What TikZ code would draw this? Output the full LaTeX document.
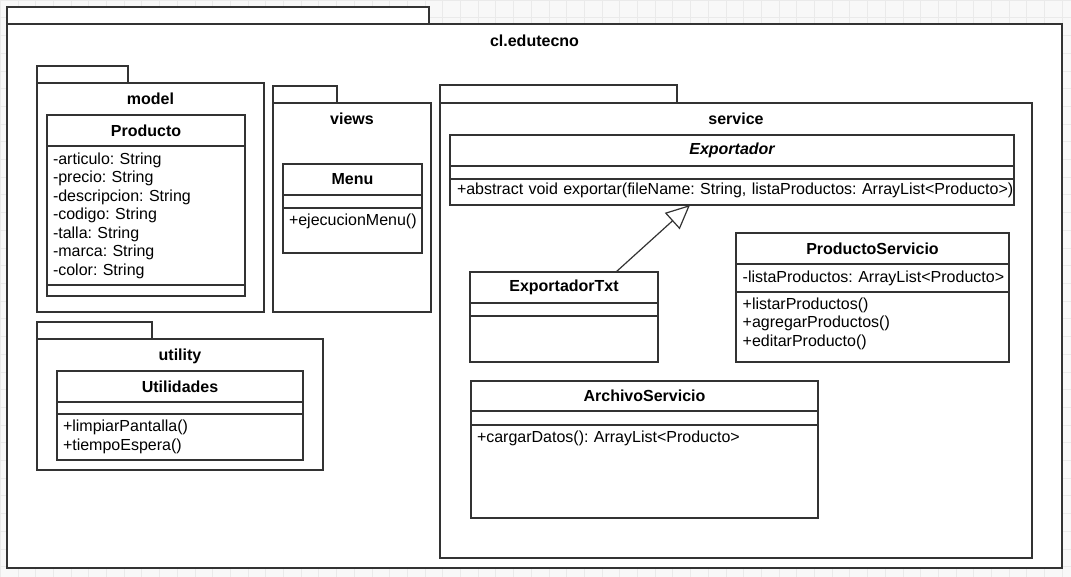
\documentclass[tikz,border=0pt]{standalone}
\usepackage{fontspec}
\setmainfont{Liberation Sans}
\usetikzlibrary{positioning,arrows.meta}

\definecolor{umlline}{HTML}{333333}
\definecolor{pagebg}{HTML}{F8F8F8}
\definecolor{gridcol}{HTML}{EAEAEA}
\newcommand{\umlfont}{\fontsize{16}{18.5}\selectfont\frenchspacing}

\tikzset{
  pkg/.style={draw=umlline, line width=1.2pt, fill=white, inner sep=0pt, outer sep=0pt, anchor=north west},
  pkgtab/.style={draw=umlline, line width=1.2pt, fill=white, inner sep=0pt, outer sep=0pt, anchor=south west},
  pkgname/.style={font=\umlfont\bfseries, inner sep=0pt},
  classhead/.style={draw=umlline, line width=1.2pt, fill=white, font=\umlfont\bfseries, inner sep=0pt, outer sep=0pt, minimum width=#1, minimum height=31pt, anchor=north west},
  classpart/.style={draw=umlline, line width=1.2pt, fill=white, font=\umlfont, inner xsep=6pt, inner ysep=0pt, outer sep=0pt, text width=#1, align=left},
  extends/.style={draw=umlline, line width=1.2pt, -{Triangle[open, length=24pt, width=22pt, fill=white]}},
}

\begin{document}
\begin{tikzpicture}[x=1pt, y=-1pt]

      \useasboundingbox (0,0) rectangle (1071,577);
      \fill[pagebg] (0,0) rectangle (1071,577);
      \draw[gridcol, step=17.7pt] (0,0) grid (1071,577);

      % Packages
      \node[pkg, minimum width=1055pt, minimum height=544pt]  (edutecno) at (7,24) {};
      \node[pkgtab, minimum width=422pt, minimum height=17pt] (edutecno-tab) at (edutecno.north west) {};
      \node[pkgname, below=11pt of edutecno.north]           (edutecno-name) {cl.edutecno};

      \node[pkg, minimum width=227pt, minimum height=229pt]   (model) at (37,83) {};
      \node[pkgtab, minimum width=91pt, minimum height=17pt]  (model-tab) at (model.north west) {};
      \node[pkgname, below=10pt of model.north]              (model-name) {model};

      \node[pkg, minimum width=158pt, minimum height=209pt]   (views) at (273,103) {};
      \node[pkgtab, minimum width=64pt, minimum height=17pt]  (views-tab) at (views.north west) {};
      \node[pkgname, below=10pt of views.north]              (views-name) {views};

      \node[pkg, minimum width=592pt, minimum height=455pt]   (service) at (440,103) {};
      \node[pkgtab, minimum width=237pt, minimum height=18pt] (service-tab) at (service.north west) {};
      \node[pkgname, below=10pt of service.north]            (service-name) {service};

      \node[pkg, minimum width=286pt, minimum height=131pt]   (utility) at (37,339) {};
      \node[pkgtab, minimum width=115pt, minimum height=17pt] (utility-tab) at (utility.north west) {};
      \node[pkgname, below=10pt of utility.north]            (utility-name) {utility};

      % Classes
      \node[classhead=198pt]                                  (producto) at (47,115) {Producto};
      \node[classpart=186pt, below=0pt of producto, minimum height=139pt] (producto-attr)
        {-articulo: String\\-precio: String\\-descripcion: String\\-codigo: String\\-talla: String\\-marca: String\\-color: String};
      \node[classpart=186pt, below=0pt of producto-attr, minimum height=11pt] (producto-ops) {};

      \node[classhead=139pt]                                  (menu) at (283,164) {Menu};
      \node[classpart=127pt, below=0pt of menu, minimum height=13pt] (menu-attr) {};
      \node[classpart=127pt, below=0pt of menu-attr, text height=17.5pt, text depth=27.5pt] (menu-ops) {+ejecucionMenu()};

      \node[classhead=564pt, font=\umlfont\bfseries\itshape]  (exportador) at (450,135) {Exportador};
      \node[classpart=556pt, inner xsep=4pt, below=0pt of exportador, minimum height=13pt] (exportador-attr) {};
      \node[classpart=556pt, inner xsep=4pt, below=0pt of exportador-attr, text height=15.5pt, text depth=10.5pt] (exportador-ops)
        {\hspace*{3pt}\mbox{+abstract void exportar(fileName: String, listaProductos: ArrayList<Producto>)}};

      \node[classhead=188pt]                                  (exptxt) at (470,272) {ExportadorTxt};
      \node[classpart=176pt, below=0pt of exptxt, minimum height=13pt] (exptxt-attr) {};
      \node[classpart=176pt, below=0pt of exptxt-attr, minimum height=46pt] (exptxt-ops) {};

      \node[classhead=273pt]                                  (prodserv) at (736,233) {ProductoServicio};
      \node[classpart=265pt, inner xsep=4pt, below=0pt of prodserv, minimum height=28pt] (prodserv-attr)
        {\,-listaProductos: ArrayList<Producto>};
      \node[classpart=265pt, inner xsep=4pt, below=0pt of prodserv-attr, text height=17pt, text depth=53pt] (prodserv-ops)
        {\,+listarProductos()\\\,+agregarProductos()\\\,+editarProducto()};

      \node[classhead=347pt, minimum height=30pt]             (archserv) at (471,381) {ArchivoServicio};
      \node[classpart=335pt, below=0pt of archserv, minimum height=14pt] (archserv-attr) {};
      \node[classpart=335pt, below=0pt of archserv-attr, text height=17.5pt, text depth=75.5pt] (archserv-ops)
        {+cargarDatos(): ArrayList<Producto>};

      \node[classhead=246pt]                                  (utilidades) at (57,371) {Utilidades};
      \node[classpart=234pt, below=0pt of utilidades, minimum height=12pt] (utilidades-attr) {};
      \node[classpart=234pt, below=0pt of utilidades-attr, minimum height=46pt] (utilidades-ops)
        {+limpiarPantalla()\\+tiempoEspera()};

      % Connect the nodes
      \draw[extends] ([xshift=52pt]exptxt.north) -- ([xshift=-42pt]exportador-ops.south);

\end{tikzpicture}
\end{document}
